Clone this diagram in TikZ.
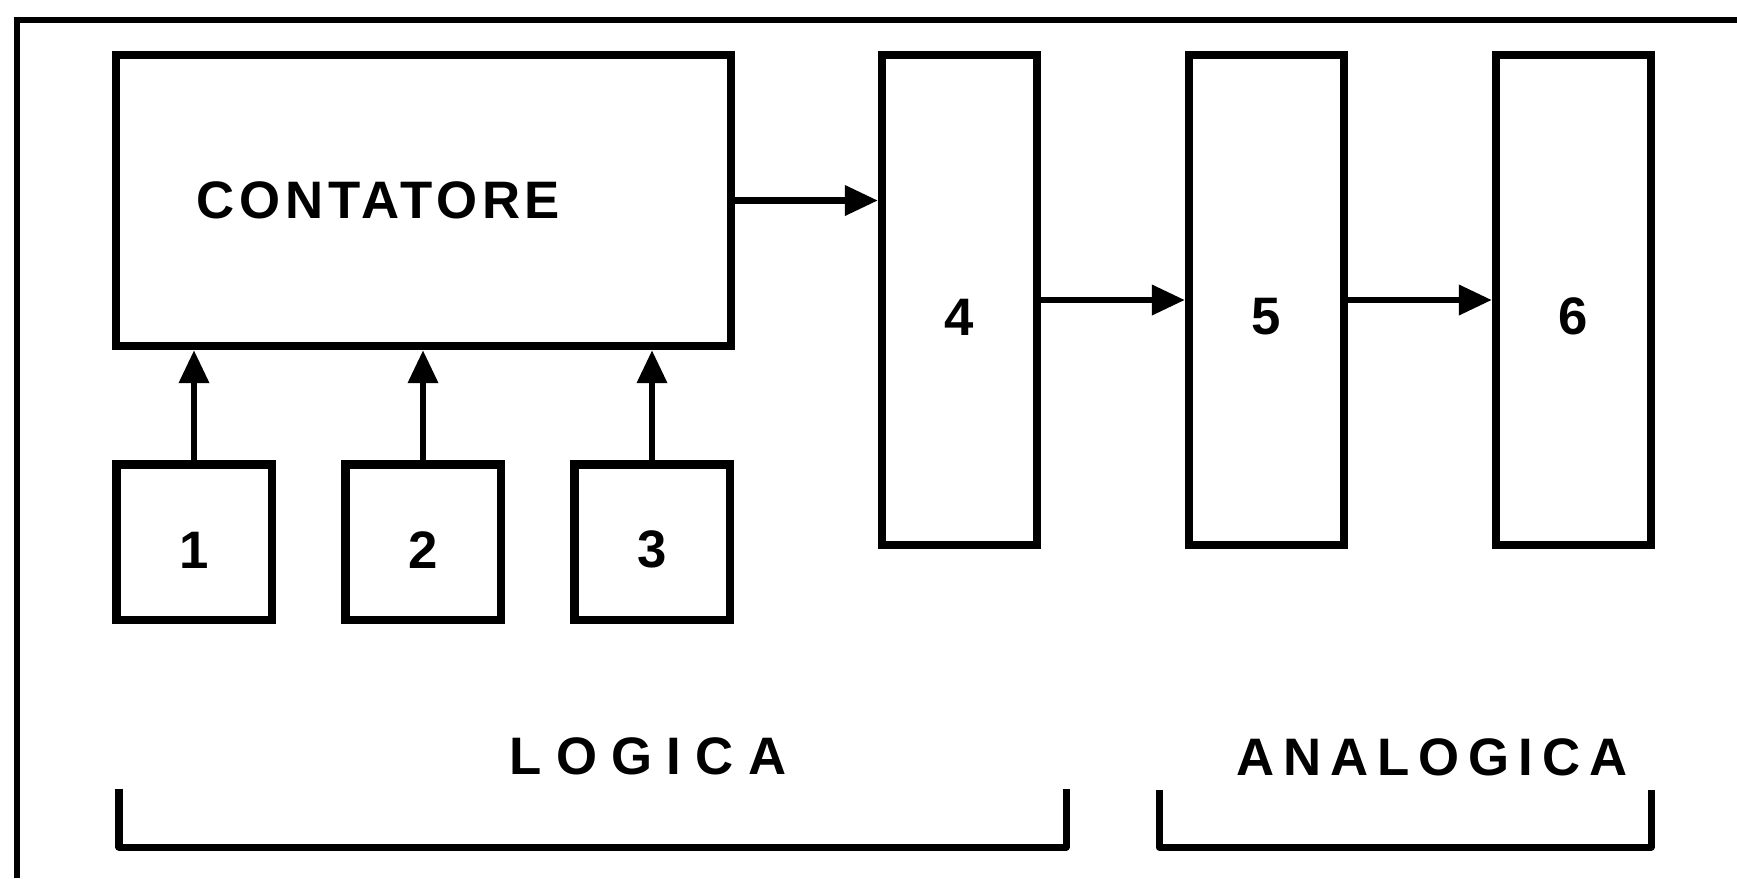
\documentclass[tikz,border=0pt]{standalone}
\usepackage{fontspec}
\setmainfont{Liberation Sans}
\usetikzlibrary{arrows.meta,positioning}

\begin{document}
\begin{tikzpicture}[x=0.01cm, y=-0.01cm,
  box/.style={rectangle, draw, line width=2.3pt, inner sep=0pt,
              font=\fontsize{15}{18}\selectfont\bfseries},
  inbox/.style={box, minimum width=1.55cm, minimum height=1.55cm, text height=0.52cm},
  stage/.style={box, minimum width=1.55cm, minimum height=4.9cm, text height=0.7cm},
  tag/.style={font=\fontsize{15}{18}\selectfont\bfseries, inner sep=0pt},
  arr/.style={-{Triangle[length=3.3mm, width=2.9mm]}, line width=1.9pt},
  brace/.style={line width=2pt, line join=round}]
  \useasboundingbox (0,0) rectangle (1737,878);
  % frame
  \draw[line width=1.6pt] (17,878) -- (17,20) -- (1737,20);
  % logic part
  \node[box, minimum width=6.15cm, minimum height=2.91cm, inner xsep=0.81cm,
        text width=4.53cm, align=left] (cont) at (423.5,200.5)
        {\addfontfeature{LetterSpace=9}CONTATORE};
  \node[inbox] (in1) at (194,542) {1};
  \node[inbox] (in2) at (423,542) {2};
  \node[inbox] (in3) at (652,542) {3};
  \node[stage] (st4) at (959.5,300) {4};
  % analog part
  \node[stage] (st5) at (1266.5,300) {5};
  \node[stage] (st6) at (1573.5,300) {6};
  \foreach \i in {1,2,3}
    \draw[arr] (in\i) -- (in\i |- cont.south);
  \draw[arr] (cont.east) -- (cont.east -| st4.west);
  \draw[arr] (st4) -- (st5);
  \draw[arr] (st5) -- (st6);
  % brackets
  \node[tag] (logica) at (648,756) {\addfontfeature{LetterSpace=27}LOGICA};
  \node[tag] (analogica) at (1432,757) {\addfontfeature{LetterSpace=17}ANALOGICA};
  \draw[brace] (119,789) -- (119,847) -- (1066,847) -- (1066,789);
  \draw[brace] (1159,790) -- (1159,847) -- (1651,847) -- (1651,790);
\end{tikzpicture}
\end{document}
